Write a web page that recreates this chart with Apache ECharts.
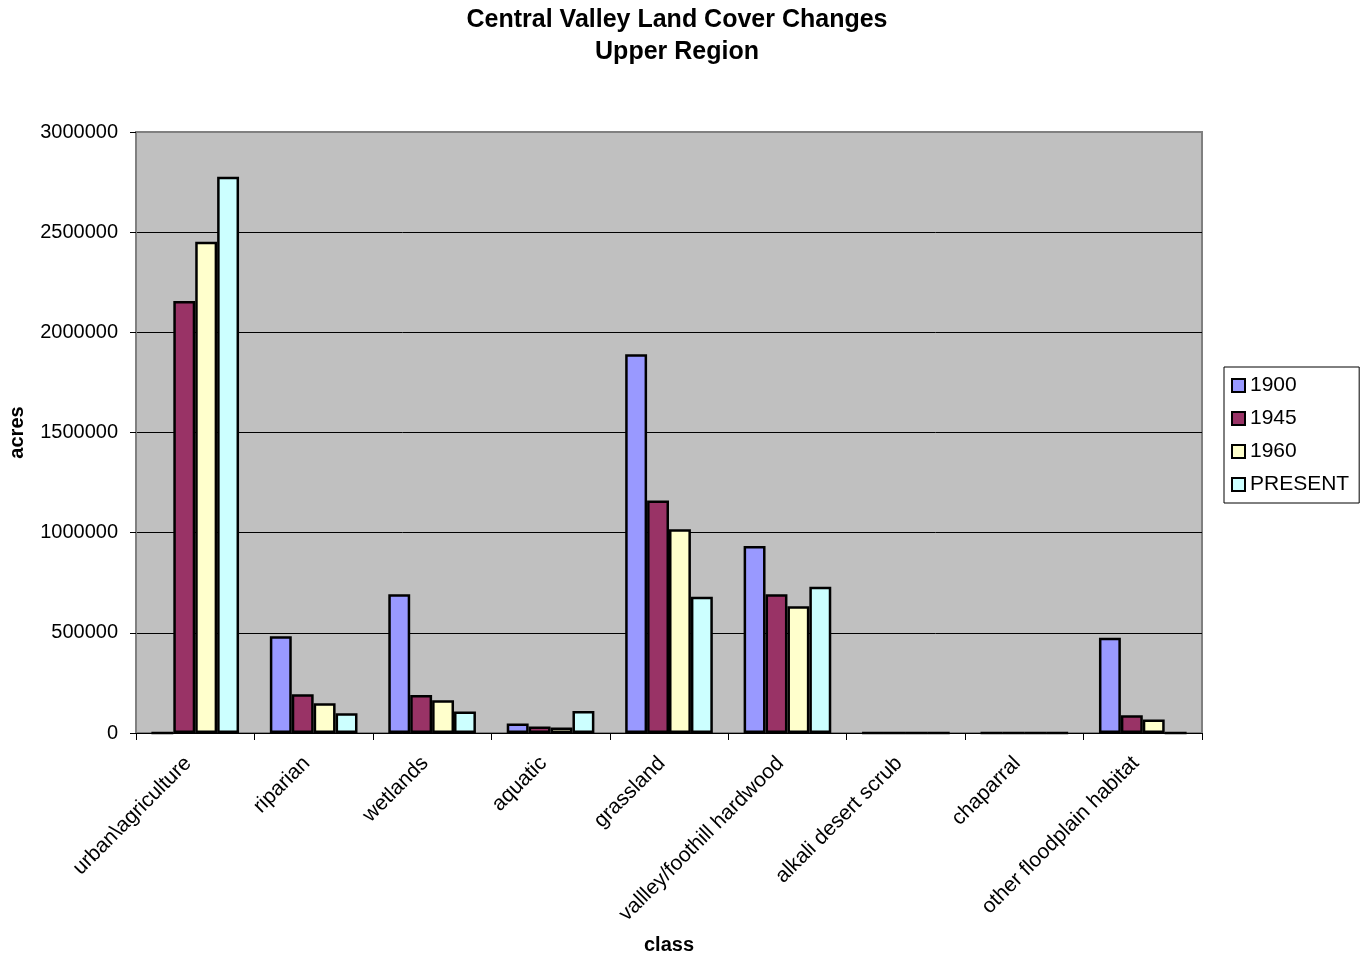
<!DOCTYPE html>
<html>
<head>
<meta charset="utf-8">
<title>Central Valley Land Cover Changes - Upper Region</title>
<script src="https://cdn.jsdelivr.net/npm/echarts@6/dist/echarts.min.js"></script>
<style>
  html, body { margin: 0; padding: 0; background: #ffffff; }
  #chart { width: 1369px; height: 959px; }
</style>
</head>
<body>
<div id="chart"></div>
<script>
// Land cover classes (x axis)
const categories = [
  'urban\\agriculture', 'riparian', 'wetlands', 'aquatic', 'grassland',
  'vallley/foothill hardwood', 'alkali desert scrub', 'chaparral', 'other floodplain habitat'
];

// Acres per class for each period
const acres1900    = [0,       483000, 693000, 47000,  1890000, 933000, 0, 0, 475000];
const acres1945    = [2157000, 194000, 190000, 32000,  1160000, 692000, 0, 0, 88000];
const acres1960    = [2452000, 149000, 163000, 28000,  1017000, 633000, 0, 0, 68000];
const acresPresent = [2777000, 98000,  107000, 110000, 680000,  730000, 0, 0, 0];

const seriesNames = ['1900', '1945', '1960', 'PRESENT'];
const seriesValues = [acres1900, acres1945, acres1960, acresPresent];
const seriesColors = ['#9999FF', '#993366', '#FFFFCC', '#CCFFFF'];

const FONT = '"Liberation Sans", Arial, sans-serif';

const chart = echarts.init(document.getElementById('chart'), null, { renderer: 'canvas' });

chart.setOption({
  animation: false,
  backgroundColor: '#ffffff',
  textStyle: { fontFamily: FONT, color: '#000' },
  title: {
    text: 'Central Valley Land Cover Changes\nUpper Region',
    left: 672,
    top: -1,
    textAlign: 'center',
    textStyle: {
      fontFamily: FONT,
      fontSize: 25,
      fontWeight: 'bold',
      lineHeight: 32,
      color: '#000'
    }
  },
  legend: {
    orient: 'vertical',
    left: 1224,
    top: 367,
    padding: [8, 10, 8, 7],
    itemGap: 12,
    itemWidth: 13,
    itemHeight: 13,
    backgroundColor: '#ffffff',
    borderColor: '#000',
    borderWidth: 1,
    borderRadius: 0,
    icon: 'rect',
    textStyle: { fontFamily: FONT, fontSize: 21, color: '#000' },
    data: seriesNames
  },
  grid: {
    left: 136,
    right: 167,
    top: 132,
    bottom: 226,
    show: true,
    backgroundColor: '#C0C0C0',
    borderColor: '#808080',
    borderWidth: 2,
    containLabel: false,
    outerBoundsMode: 'none'
  },
  xAxis: {
    type: 'category',
    data: categories,
    name: 'class',
    nameLocation: 'middle',
    nameGap: 202,
    nameTextStyle: { fontFamily: FONT, fontSize: 20, fontWeight: 'bold', color: '#000' },
    axisLine: { show: true, lineStyle: { color: '#000', width: 1 } },
    axisTick: { show: true, alignWithLabel: false, length: 7, lineStyle: { color: '#000' } },
    axisLabel: {
      interval: 0,
      rotate: 45,
      margin: 20,
      padding: [0, 10, 0, 0],
      fontFamily: FONT,
      fontSize: 21,
      color: '#000'
    },
    splitLine: { show: false }
  },
  yAxis: {
    type: 'value',
    min: 0,
    max: 3000000,
    interval: 500000,
    name: 'acres',
    nameLocation: 'middle',
    nameRotate: 90,
    nameGap: 109,
    nameTextStyle: { fontFamily: FONT, fontSize: 20, fontWeight: 'bold', color: '#000' },
    axisLine: { show: true, lineStyle: { color: '#808080', width: 2 } },
    axisTick: { show: true, inside: false, length: 6, lineStyle: { color: '#000' } },
    axisLabel: {
      margin: 18,
      fontFamily: FONT,
      fontSize: 20,
      color: '#000',
      formatter: (v) => String(v)
    },
    splitLine: { show: true, showMaxLine: false, lineStyle: { color: '#000', width: 1 } }
  },
  series: seriesNames.map((name, i) => ({
    name: name,
    type: 'bar',
    data: seriesValues[i],
    barGap: '0%',
    barCategoryGap: '26%',
    itemStyle: {
      color: seriesColors[i],
      borderColor: '#000',
      borderWidth: 2.5
    }
  }))
});
</script>
</body>
</html>
